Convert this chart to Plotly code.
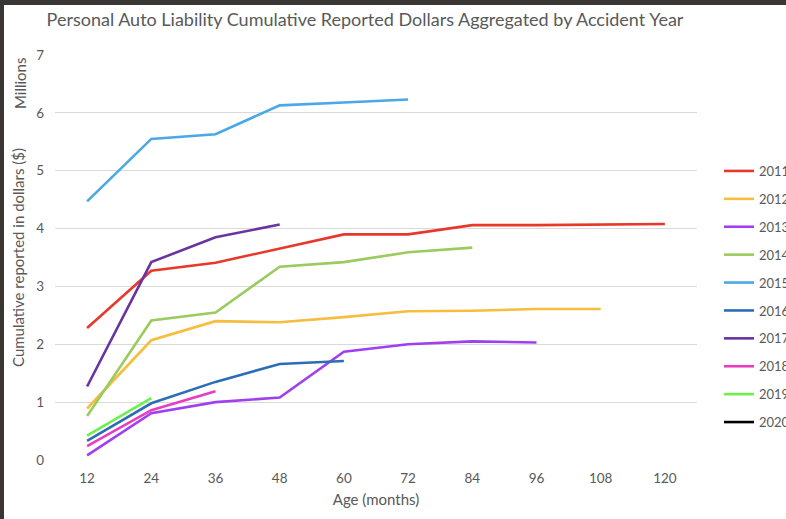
import plotly.graph_objects as go

ages = ["12", "24", "36", "48", "60", "72", "84", "96", "108", "120"]

# Cumulative reported dollars (millions) by accident year and age
ay_2011 = [2.28, 3.27, 3.41, 3.66, 3.90, 3.90, 4.06, 4.06, 4.07, 4.08]
ay_2012 = [0.89, 2.07, 2.40, 2.38, 2.47, 2.57, 2.58, 2.61, 2.61]
ay_2013 = [0.08, 0.81, 1.00, 1.08, 1.87, 2.00, 2.05, 2.03]
ay_2014 = [0.76, 2.41, 2.55, 3.34, 3.42, 3.59, 3.67]
ay_2015 = [4.47, 5.55, 5.63, 6.13, 6.18, 6.23]
ay_2016 = [0.33, 0.98, 1.35, 1.66, 1.71]
ay_2017 = [1.27, 3.42, 3.85, 4.07]
ay_2018 = [0.24, 0.86, 1.19]
ay_2019 = [0.42, 1.07]
ay_2020 = [None]

years = ["2011", "2012", "2013", "2014", "2015", "2016", "2017", "2018", "2019", "2020"]
series = [ay_2011, ay_2012, ay_2013, ay_2014, ay_2015, ay_2016, ay_2017, ay_2018, ay_2019, ay_2020]
colors = ["#E8382B", "#F6BD3F", "#A03FF0", "#9BCB5E", "#4AA8E6",
          "#2C6DB7", "#6A34A0", "#E83DC0", "#6EF04A", "#000000"]

FONT = "Lato"
GREY = "#595959"

fig = go.Figure()
for name, vals, col in zip(years, series, colors):
    fig.add_trace(go.Scatter(
        x=ages[:len(vals)], y=vals, name=name, mode="lines",
        legendgroup=name, showlegend=True,
        line=dict(color=col, width=2.6),
    ))

W, H = 786, 519
L, R, T, B = 55, 89, 55, 59
pw, ph = W - L - R, H - T - B

def px_x(p):
    return (p - L) / pw

def px_y(p):
    return (H - B - p) / ph

fig.update_layout(
    width=W, height=H,
    margin=dict(l=L, r=R, t=T, b=B, autoexpand=False),
    paper_bgcolor="white", plot_bgcolor="white",
    font=dict(family=FONT, color=GREY, size=13),
    title=dict(text="Personal Auto Liability Cumulative Reported Dollars Aggregated by Accident Year",
               x=365 / W, xanchor="center", y=1 - 20 / H, yanchor="middle",
               font=dict(size=18, color=GREY, family=FONT)),
    xaxis=dict(type="category", categoryorder="array", categoryarray=ages,
               range=[-0.5, 9.5], showgrid=False, zeroline=False, showline=False,
               ticks="", ticklabelstandoff=8, tickfont=dict(size=13.5, color=GREY),
               title=dict(text="Age (months)", font=dict(size=15, color=GREY), standoff=9)),
    yaxis=dict(range=[0, 7], dtick=1, showgrid=True, gridcolor="#D9D9D9", gridwidth=1.3,
               zeroline=False, showline=False, ticks="", ticklabelstandoff=10,
               tickfont=dict(size=13.5, color=GREY),
               title=dict(text="Cumulative reported in dollars ($)", font=dict(size=15, color=GREY),
                          standoff=7)),
    legend=dict(x=px_x(719), xanchor="left", y=px_y(156), yanchor="top",
                tracegroupgap=8, itemwidth=30, font=dict(size=13, color=GREY),
                bgcolor="rgba(0,0,0,0)"),
    showlegend=True,
)

fig.add_annotation(text="Millions", x=px_x(20), y=px_y(84), xref="paper", yref="paper",
                   xanchor="center", yanchor="middle",
                   textangle=-90, showarrow=False, font=dict(size=15, color=GREY))

# dark frame along the top and left edges
frame = "#3A3634"
fig.add_shape(type="rect", xref="paper", yref="paper", x0=px_x(0), x1=px_x(W),
              y0=px_y(5), y1=px_y(0), fillcolor=frame, line_width=0, layer="above")
fig.add_shape(type="rect", xref="paper", yref="paper", x0=px_x(0), x1=px_x(4),
              y0=px_y(H), y1=px_y(0), fillcolor=frame, line_width=0, layer="above")

fig.write_html("out.html")
